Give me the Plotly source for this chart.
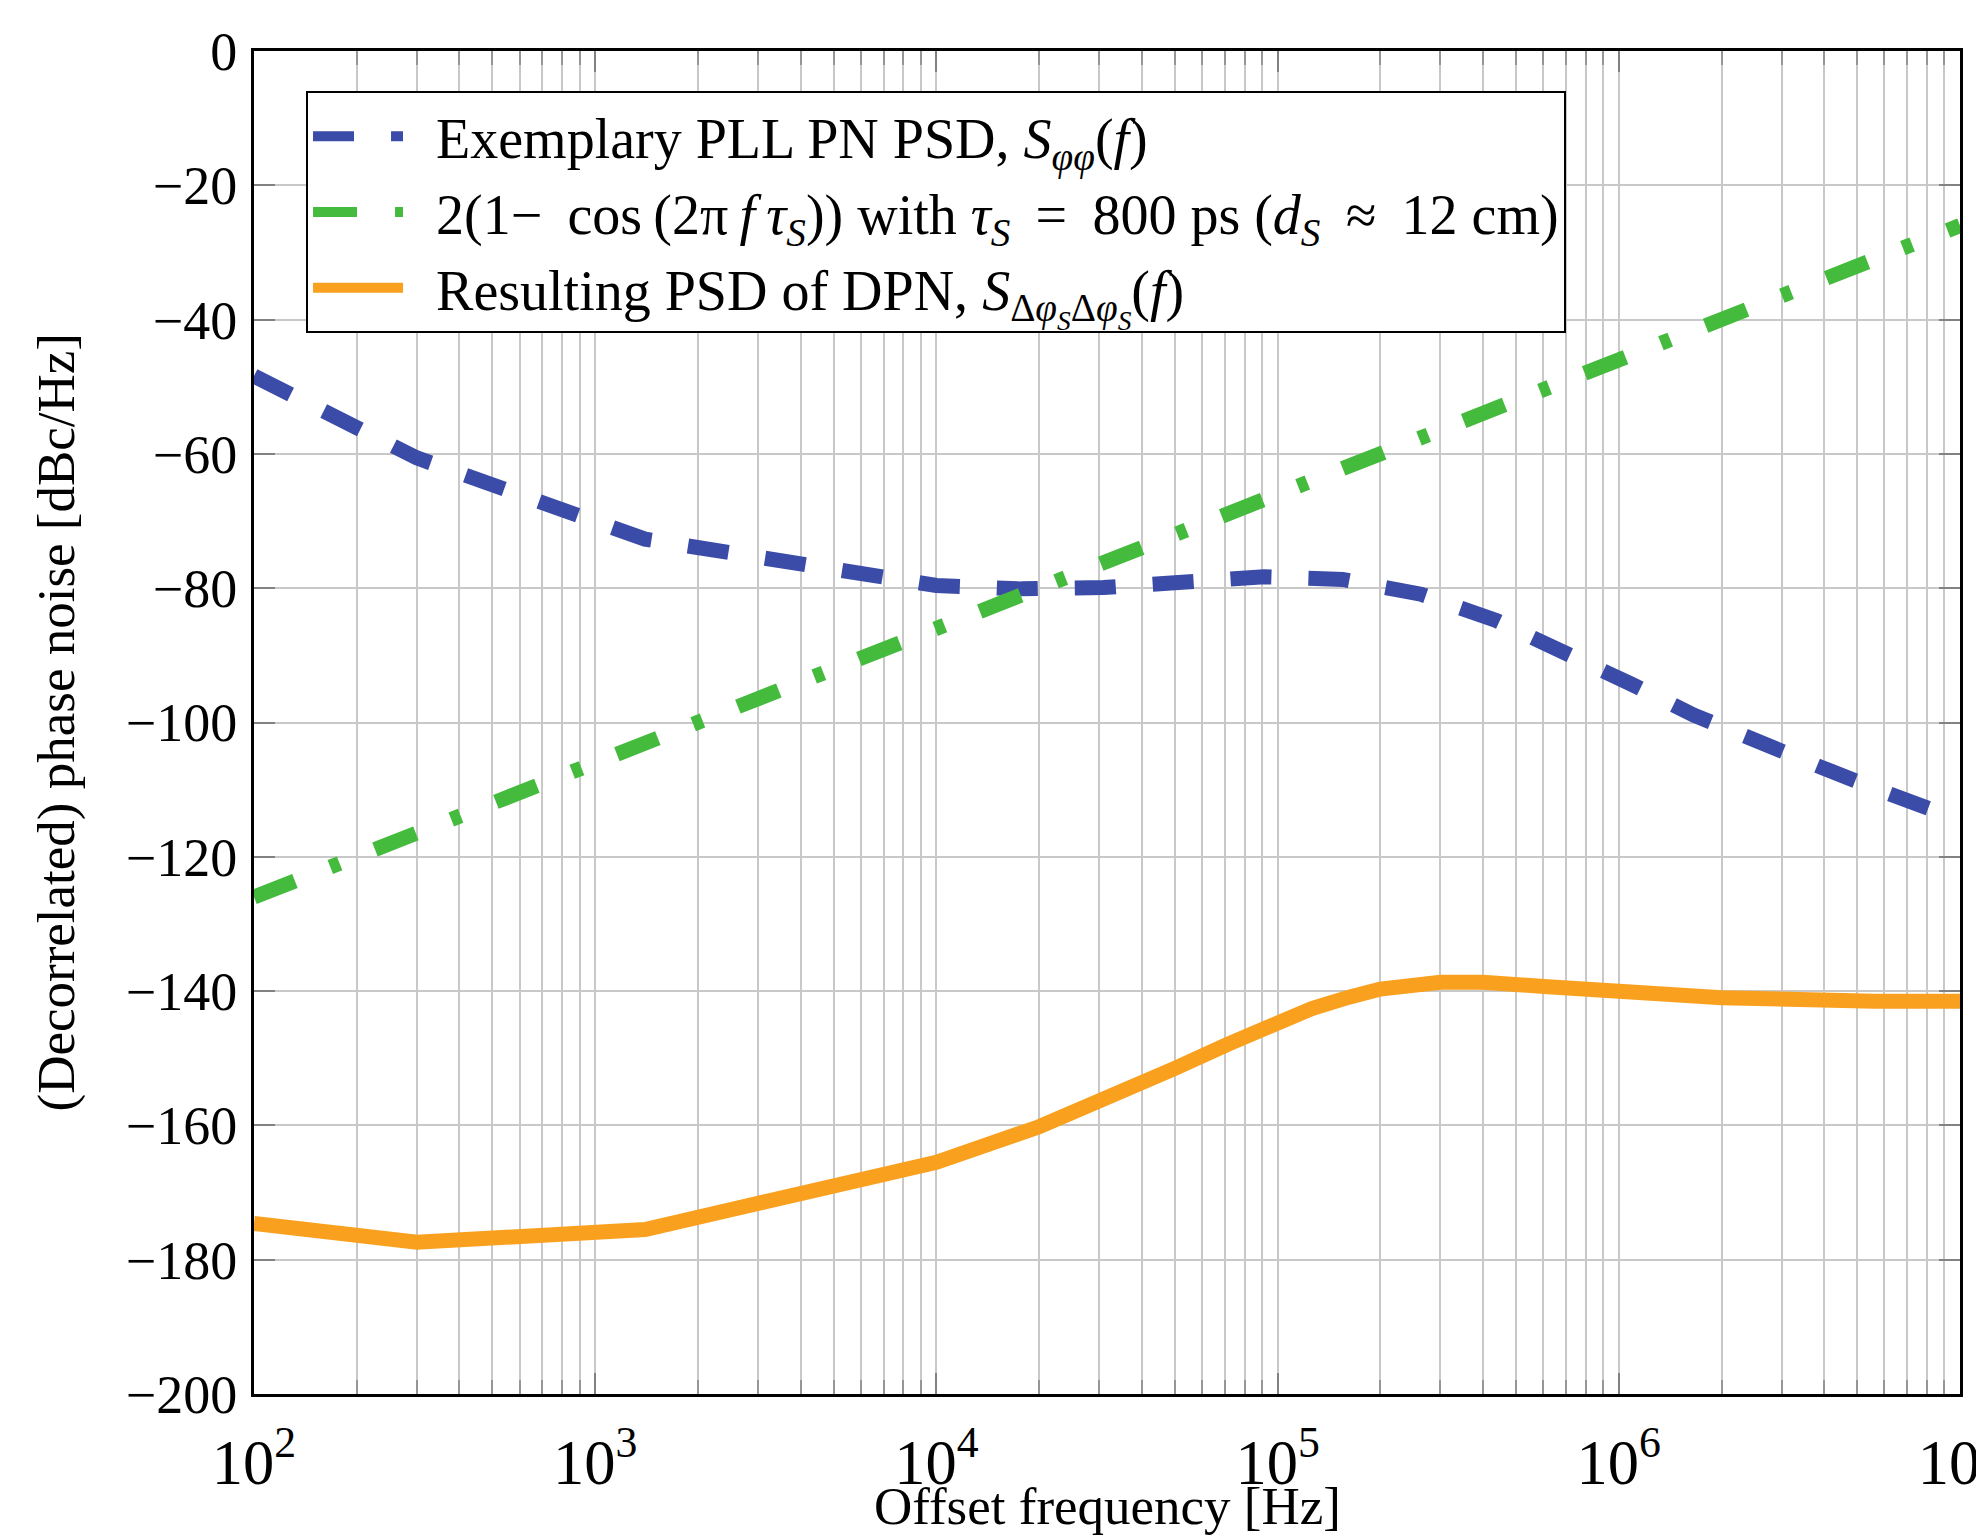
import plotly.graph_objects as go

# ---- data ----
f_pll = [1e2, 3e2, 1.4e3, 1e4, 1.78e4, 3.09e4, 5.25e4, 9.12e4, 1.55e5, 2.63e5,
         4.37e5, 7.08e5, 1.1e6, 1.66e6, 2.57e6, 3.89e6, 5.75e6, 8.7e6, 1e7]
s_pll = [-48.4, -60.6, -72.7, -79.6, -80.1, -79.9, -79.1, -78.3, -78.7, -80.9,
         -84.8, -89.6, -94.4, -98.9, -103.1, -106.6, -110.0, -113.5, -114.5]

f_cos = [1e2, 1e3, 1e4, 1e5, 1e6, 1e7]
s_cos = [-126.0, -106.0, -86.0, -66.0, -46.0, -26.0]

f_dpn = [1e2, 3e2, 1.4e3, 1e4, 2e4, 3e4, 4e4, 5e4, 7.08e4, 1e5, 1.26e5, 1.62e5,
         2e5, 3e5, 4e5, 6.03e5, 1e6, 2e6, 5.62e6, 1e7]
s_dpn = [-174.6, -177.4, -175.5, -165.5, -160.2, -156.6, -153.7, -151.5, -148.0, -144.7,
         -142.6, -140.9, -139.7, -138.7, -138.7, -139.3, -140.2, -141.0, -141.5, -141.5]

T = "\u2009"   # thin space
E = "\u2002"   # en space (gap between legend sample and text)
names = [
    E + "Exemplary PLL PN PSD, <i>S</i><sub><i>φφ</i></sub>(<i>f</i>)",
    E + "2(1−" + T + " cos" + T + "(2π" + T + "<i>f</i>" + T + "<i>τ</i><sub><i>S</i></sub>))"
      + " with <i>τ</i><sub><i>S</i></sub>" + T + " = " + T + "800 ps (<i>d</i><sub><i>S</i></sub>" + T + " ≈ " + T + "12 cm)",
    E + "Resulting PSD of DPN, <i>S</i><sub>Δ<i>φ</i><sub><i>S</i></sub>Δ<i>φ</i><sub><i>S</i></sub></sub>(<i>f</i>)",
]
x_title = "Offset frequency [Hz]"
y_title = "(Decorrelated) phase noise [dBc/Hz]"

BLUE = "rgb(59,75,168)"
GREEN = "rgb(68,187,61)"
ORANGE = "rgb(249,160,30)"

fig = go.Figure()
fig.add_trace(go.Scatter(x=f_pll, y=s_pll, mode="lines", name=names[0],
                         line=dict(color=BLUE, width=15, dash="41px,37px")))
fig.add_trace(go.Scatter(x=f_cos, y=s_cos, mode="lines", name=names[1],
                         line=dict(color=GREEN, width=15, dash="44px,38px,10px,38px")))
fig.add_trace(go.Scatter(x=f_dpn, y=s_dpn, mode="lines", name=names[2],
                         line=dict(color=ORANGE, width=15)))

FONT = "Liberation Serif"
grid = "rgb(200,200,200)"

# the page body adds an 8px offset; margins compensate for it
fig.update_layout(
    width=1984, height=1536,
    margin=dict(l=246, r=32, t=43, b=150),
    paper_bgcolor="white", plot_bgcolor="white",
    font=dict(family=FONT, size=54, color="black"),
    showlegend=True,
    legend=dict(x=0.0305, y=0.970, xanchor="left", yanchor="top",
                bgcolor="white", bordercolor="black", borderwidth=2,
                font=dict(family=FONT, size=56, color="black"),
                itemwidth=90, tracegroupgap=0),
    hovermode=False,
    annotations=[
        dict(text=x_title, xref="paper", yref="paper", x=0.5, y=-0.0835,
             xanchor="center", yanchor="middle", showarrow=False,
             font=dict(family=FONT, size=53, color="black")),
        dict(text=y_title, xref="paper", yref="paper", x=-0.1155, y=0.5,
             xanchor="center", yanchor="middle", showarrow=False, textangle=-90,
             font=dict(family=FONT, size=53, color="black")),
    ],
)

fig.update_xaxes(
    type="log", range=[2, 7], dtick=1, exponentformat="power",
    showgrid=True, gridcolor=grid, gridwidth=2,
    ticks="inside", ticklen=21, tickwidth=2, tickcolor="rgb(130,130,130)",
    minor=dict(showgrid=True, gridcolor=grid, gridwidth=2, ticks="inside",
               ticklen=14, tickwidth=1.5, tickcolor="rgb(150,150,150)", dtick="D1"),
    showline=True, linecolor="black", linewidth=3, mirror="allticks",
    zeroline=False, automargin=False, ticklabeloverflow="allow", ticklabelstandoff=14,
    tickfont=dict(family=FONT, size=50),
)
fig.update_yaxes(
    range=[-200, 0], dtick=20,
    showgrid=True, gridcolor=grid, gridwidth=2,
    ticks="inside", ticklen=21, tickwidth=2, tickcolor="rgb(130,130,130)",
    showline=True, linecolor="black", linewidth=3, mirror="allticks",
    zeroline=False, automargin=False, ticklabelstandoff=3,
    tickfont=dict(family=FONT, size=54),
)

fig.write_html("out.html")
